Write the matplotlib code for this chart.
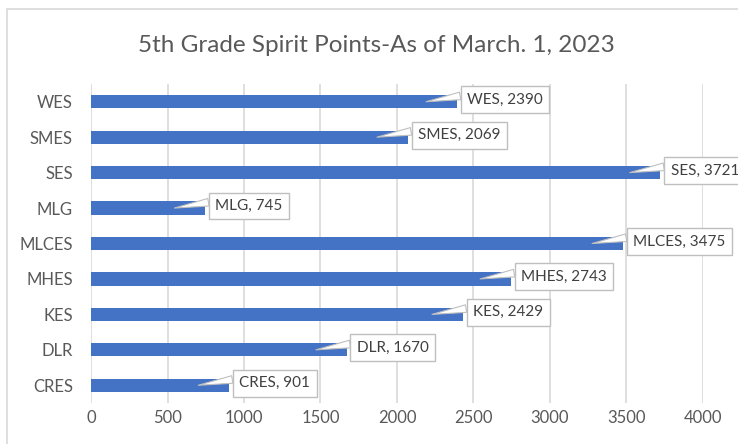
import matplotlib.pyplot as plt
from matplotlib.patches import Rectangle

# Data
schools = ['CRES', 'DLR', 'KES', 'MHES', 'MLCES', 'MLG', 'SES', 'SMES', 'WES']
points = [901, 1670, 2429, 2743, 3475, 745, 3721, 2069, 2390]

plt.rcParams['font.family'] = ['Lato', 'DejaVu Sans']

fig = plt.figure(figsize=(7.38, 4.44), dpi=100)
W, H = 738, 444

# chart border (cropped on right and bottom)
fig.patches.append(Rectangle((7 / W, -0.1), 1.2, 1 - 9 / H + 0.1,
                             transform=fig.transFigure, fill=False,
                             ec='#D9D9D9', lw=1.2))

ax = fig.add_axes([91 / W, 1 - 403 / H, (703 - 91) / W, (403 - 84) / H])

ypos = list(range(len(schools)))
ax.barh(ypos, points, height=0.37, color='#4472C4', zorder=2)

ax.set_xlim(0, 4000)
ax.set_ylim(-0.5, len(schools) - 0.5)
ax.set_xticks(range(0, 4001, 500))
ax.set_yticks(ypos)
ax.set_yticklabels(schools)
ax.tick_params(axis='both', length=0, labelsize=12, colors='#595959')
ax.tick_params(axis='y', pad=13)
ax.tick_params(axis='x', pad=5)
ax.grid(axis='x', color='#D9D9D9', lw=1.2, zorder=0)
ax.set_axisbelow(True)
for s in ax.spines.values():
    s.set_visible(False)

# callout labels
for y, (name, v) in enumerate(zip(schools, points)):
    ax.annotate(f'{name}, {v}', xy=(v - 200, y), xycoords='data',
                xytext=(29.5, 1.5), textcoords='offset points',
                ha='left', va='center', fontsize=11, color='#404040',
                bbox=dict(boxstyle='square,pad=0.42', fc='white', ec='#BFBFBF', lw=1),
                arrowprops=dict(arrowstyle='wedge,tail_width=0.5', fc='white',
                                ec='#BFBFBF', lw=0.8, relpos=(0.0, 0.85),
                                shrinkA=0, shrinkB=0),
                zorder=5, annotation_clip=False)

fig.text(376 / W, 1 - 45 / H, '5th Grade Spirit Points-As of March. 1, 2023',
         ha='center', va='center', fontsize=17.5, color='#595959')

fig.savefig('out.png', dpi=100)
